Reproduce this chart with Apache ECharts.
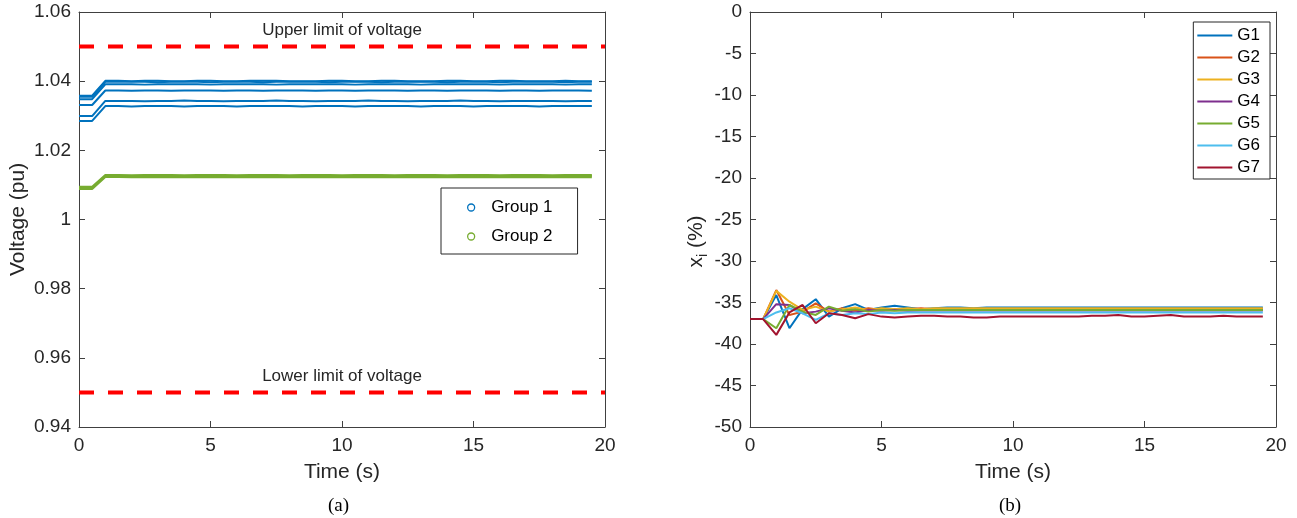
<!DOCTYPE html>
<html>
<head>
<meta charset="utf-8">
<script src="https://cdn.jsdelivr.net/npm/echarts@6/dist/echarts.min.js"></script>
<style>html,body{margin:0;padding:0;background:#fff}#c{width:1297px;height:518px}</style>
</head>
<body>
<div id="c"></div>
<script>
// ---------- data ----------
var time = [0,0.5,1,1.5,2,2.5,3,3.5,4,4.5,5,5.5,6,6.5,7,7.5,8,8.5,9,9.5,10,10.5,11,11.5,12,12.5,13,13.5,14,14.5,15,15.5,16,16.5,17,17.5,18,18.5,19,19.5];

// (a) voltages, group 1 (blue)
var g1a = [1.0358,1.0358,1.0401,1.0401,1.0400,1.0401,1.0401,1.0400,1.0400,1.0401,1.0401,1.0400,1.0400,1.0401,1.0401,1.0401,1.0400,1.0400,1.0400,1.0401,1.0401,1.0400,1.0400,1.0401,1.0401,1.0400,1.0400,1.0400,1.0401,1.0401,1.0400,1.0400,1.0401,1.0401,1.0400,1.0400,1.0400,1.0401,1.0400,1.0400];
var g1b = [1.0355,1.0355,1.0398,1.0398,1.0398,1.0398,1.0397,1.0398,1.0398,1.0398,1.0397,1.0398,1.0398,1.0398,1.0397,1.0398,1.0398,1.0398,1.0398,1.0397,1.0398,1.0398,1.0398,1.0397,1.0398,1.0398,1.0398,1.0398,1.0397,1.0398,1.0398,1.0398,1.0397,1.0398,1.0398,1.0398,1.0398,1.0397,1.0398,1.0398];
var g1c = [1.0348,1.0348,1.0391,1.0391,1.0391,1.0390,1.0391,1.0391,1.0391,1.0391,1.0390,1.0391,1.0391,1.0391,1.0391,1.0390,1.0391,1.0391,1.0391,1.0391,1.0391,1.0390,1.0391,1.0391,1.0391,1.0391,1.0390,1.0391,1.0391,1.0391,1.0391,1.0391,1.0390,1.0391,1.0391,1.0391,1.0391,1.0390,1.0391,1.0391];
var g1d = [1.0331,1.0331,1.0373,1.0373,1.0372,1.0373,1.0373,1.0372,1.0373,1.0373,1.0373,1.0372,1.0373,1.0373,1.0372,1.0373,1.0373,1.0373,1.0372,1.0373,1.0373,1.0372,1.0373,1.0373,1.0373,1.0372,1.0373,1.0373,1.0372,1.0373,1.0373,1.0373,1.0372,1.0373,1.0373,1.0372,1.0373,1.0373,1.0373,1.0372];
var g1e = [1.0299,1.0299,1.0343,1.0343,1.0343,1.0342,1.0343,1.0343,1.0344,1.0343,1.0343,1.0342,1.0343,1.0343,1.0343,1.0344,1.0343,1.0343,1.0342,1.0343,1.0343,1.0343,1.0344,1.0343,1.0343,1.0342,1.0343,1.0343,1.0343,1.0344,1.0343,1.0343,1.0342,1.0343,1.0343,1.0343,1.0343,1.0342,1.0343,1.0343];
var g1f = [1.0285,1.0285,1.0328,1.0328,1.0327,1.0328,1.0328,1.0328,1.0327,1.0328,1.0328,1.0328,1.0327,1.0328,1.0328,1.0328,1.0328,1.0327,1.0328,1.0328,1.0328,1.0327,1.0328,1.0328,1.0328,1.0328,1.0327,1.0328,1.0328,1.0328,1.0327,1.0328,1.0328,1.0328,1.0328,1.0327,1.0328,1.0328,1.0328,1.0328];
// (a) voltages, group 2 (green)
var g2a = [1.0095,1.0095,1.0129,1.0129,1.0128,1.0129,1.0129,1.0129,1.0128,1.0129,1.0129,1.0129,1.0128,1.0129,1.0129,1.0129,1.0128,1.0129,1.0129,1.0129,1.0128,1.0129,1.0129,1.0129,1.0128,1.0129,1.0129,1.0129,1.0128,1.0129,1.0129,1.0129,1.0128,1.0129,1.0129,1.0129,1.0128,1.0129,1.0129,1.0129];
var g2b = [1.0091,1.0091,1.0126,1.0126,1.0126,1.0125,1.0126,1.0126,1.0126,1.0126,1.0125,1.0126,1.0126,1.0126,1.0126,1.0125,1.0126,1.0126,1.0126,1.0126,1.0125,1.0126,1.0126,1.0126,1.0126,1.0125,1.0126,1.0126,1.0126,1.0126,1.0125,1.0126,1.0126,1.0126,1.0126,1.0125,1.0126,1.0126,1.0126,1.0126];
var g2c = [1.0088,1.0088,1.0123,1.0123,1.0122,1.0122,1.0122,1.0123,1.0122,1.0122,1.0122,1.0123,1.0122,1.0122,1.0122,1.0123,1.0122,1.0122,1.0122,1.0123,1.0122,1.0122,1.0122,1.0123,1.0122,1.0122,1.0122,1.0123,1.0122,1.0122,1.0122,1.0123,1.0122,1.0122,1.0122,1.0123,1.0122,1.0122,1.0122,1.0122];
var limitTimes = [0, 10, 20];
var upperLimit = 1.05;
var lowerLimit = 0.95;
var voltTicks = ['0.94','0.96','0.98','1','1.02','1.04','1.06'];

// (b) x_i (%)
var gNames = ['G1','G2','G3','G4','G5','G6','G7'];
var G1 = [-37,-37,-34.1,-38.1,-35.8,-34.6,-36.7,-35.7,-35.2,-35.9,-35.6,-35.4,-35.6,-35.8,-35.7,-35.6,-35.6,-35.7,-35.6,-35.6,-35.6,-35.6,-35.6,-35.6,-35.6,-35.6,-35.6,-35.6,-35.6,-35.6,-35.6,-35.6,-35.6,-35.6,-35.6,-35.6,-35.6,-35.6,-35.6,-35.6];
var G2 = [-37,-37,-33.5,-36.5,-36.1,-35.1,-36.1,-35.7,-36.0,-35.7,-35.9,-35.8,-35.8,-35.7,-35.8,-35.8,-35.8,-35.8,-35.8,-35.8,-35.8,-35.8,-35.8,-35.8,-35.8,-35.8,-35.8,-35.8,-35.8,-35.8,-35.8,-35.8,-35.8,-35.8,-35.8,-35.8,-35.8,-35.8,-35.8,-35.8];
var G3 = [-37,-37,-33.6,-34.9,-35.9,-35.5,-36.1,-35.8,-35.6,-35.9,-35.7,-35.8,-35.7,-35.8,-35.7,-35.7,-35.7,-35.7,-35.7,-35.7,-35.7,-35.7,-35.7,-35.7,-35.7,-35.7,-35.7,-35.7,-35.7,-35.7,-35.7,-35.7,-35.7,-35.7,-35.7,-35.7,-35.7,-35.7,-35.7,-35.7];
var G4 = [-37,-37,-35.2,-35.3,-36.3,-36.1,-35.7,-36.0,-36.2,-35.9,-36.0,-35.9,-36.0,-35.95,-35.95,-35.95,-35.95,-35.95,-35.95,-35.95,-35.95,-35.95,-35.95,-35.95,-35.95,-35.95,-35.95,-35.95,-35.95,-35.95,-35.95,-35.95,-35.95,-35.95,-35.95,-35.95,-35.95,-35.95,-35.95,-35.95];
var G5 = [-37,-37,-38.1,-35.3,-36.1,-36.5,-35.5,-36.0,-35.8,-36.1,-35.9,-36.0,-35.9,-35.9,-35.9,-35.9,-35.9,-35.9,-35.9,-35.9,-35.9,-35.9,-35.9,-35.9,-35.9,-35.9,-35.9,-35.9,-35.9,-35.9,-35.9,-35.9,-35.9,-35.9,-35.9,-35.9,-35.9,-35.9,-35.9,-35.9];
var G6 = [-37,-37,-36.2,-35.7,-36.3,-37.1,-36.3,-36.5,-36.3,-36.4,-36.2,-36.3,-36.2,-36.2,-36.2,-36.2,-36.2,-36.2,-36.2,-36.2,-36.2,-36.2,-36.2,-36.2,-36.2,-36.2,-36.2,-36.2,-36.2,-36.2,-36.2,-36.2,-36.2,-36.2,-36.2,-36.2,-36.2,-36.2,-36.2,-36.2];
var G7 = [-37,-37,-38.9,-36.2,-35.3,-37.5,-36.3,-36.5,-36.9,-36.4,-36.7,-36.8,-36.7,-36.6,-36.6,-36.7,-36.7,-36.8,-36.8,-36.7,-36.7,-36.7,-36.7,-36.7,-36.7,-36.7,-36.6,-36.6,-36.5,-36.7,-36.7,-36.6,-36.5,-36.7,-36.7,-36.7,-36.6,-36.7,-36.7,-36.7];
var gData = [G1,G2,G3,G4,G5,G6,G7];
var gColors = ['#0072BD','#D95319','#EDB120','#7E2F8E','#77AC30','#4DBEEE','#A2142F'];

// ---------- chart ----------
var TXT = '#262626', AX = '#404040';
var FONT = 'Liberation Sans, Arial, Helvetica, sans-serif';
function pairs(ys){ return time.map(function(t,i){ return [t, ys[i]]; }); }

var chart = echarts.init(document.getElementById('c'), null, {renderer:'canvas'});

function xAx(gi, pos){
  var main = pos === 'bottom';
  return {
    type:'value', gridIndex:gi, position:pos, min:0, max:20, interval:5,
    axisLine:{show:true, onZero:false, lineStyle:{color:AX, width:1}},
    axisTick:{show:true, inside:true, length:6, lineStyle:{color:AX}},
    axisLabel:{show:main, color:TXT, fontSize:19, fontFamily:FONT, margin:9},
    splitLine:{show:false},
    name: main ? 'Time (s)' : '', nameLocation:'middle', nameGap:35,
    nameTextStyle:{color:TXT, fontSize:21, fontFamily:FONT}
  };
}
function yAx(gi, pos, min, max, interval, name, fmt){
  var main = pos === 'left';
  var o = {
    type:'value', gridIndex:gi, position:pos, min:min, max:max, interval:interval,
    axisLine:{show:true, onZero:false, lineStyle:{color:AX, width:1}},
    axisTick:{show:true, inside:true, length:6, lineStyle:{color:AX}},
    axisLabel:{show:main, color:TXT, fontSize:19, fontFamily:FONT, margin:8, formatter:fmt},
    splitLine:{show:false}
  };
  if (main) {
    o.name = name; o.nameLocation = 'middle';
  }
  return o;
}

var yA = yAx(0,'left',0.94,1.06,0.02,'Voltage (pu)', function(v){ return voltTicks[Math.round((v-0.94)/0.02)]; });
yA.nameGap = 50;
yA.nameTextStyle = {color:TXT, fontSize:21, fontFamily:FONT};
var yB = yAx(1,'left',-50,0,5,'{x|x}{i|i}{x| (%)}', null);
yB.nameGap = 42;
yB.nameTextStyle = {color:TXT, fontSize:21, fontFamily:FONT, padding:[0,44,0,0],
  rich:{ x:{fontSize:21, fontFamily:FONT, color:TXT, lineHeight:22, verticalAlign:'top'},
         i:{fontSize:14, fontFamily:FONT, color:TXT, lineHeight:14, padding:[12,0,0,0]} } };

var series = [];
function volt(name, data, color){
  series.push({type:'line', name:name, xAxisIndex:0, yAxisIndex:0, data:pairs(data),
    symbol:'none', lineStyle:{color:color, width:2}, itemStyle:{color:color}, silent:true, z:3});
}
[g1a,g1b,g1c,g1d,g1e,g1f].forEach(function(d){ volt('Group 1', d, '#0072BD'); });
[g2a,g2b,g2c].forEach(function(d){ volt('Group 2', d, '#77AC30'); });

function limit(val, text){
  series.push({type:'line', name:'lim'+val, xAxisIndex:0, yAxisIndex:0,
    data: limitTimes.map(function(t,i){
      return {value:[t,val], label:{show:i===1, formatter:text, position:'top', distance:8,
        color:TXT, fontSize:17, fontFamily:FONT}};
    }),
    symbol:'circle', symbolSize:0.01, showSymbol:true,
    lineStyle:{color:'#FF0000', width:4, type:[15,14]}, itemStyle:{color:'#FF0000'}, silent:true, z:2});
}
limit(upperLimit, 'Upper limit of voltage');
limit(lowerLimit, 'Lower limit of voltage');

gNames.forEach(function(n,k){
  series.push({type:'line', name:n, xAxisIndex:2, yAxisIndex:2, data:pairs(gData[k]),
    symbol:'none', lineStyle:{color:gColors[k], width:2}, itemStyle:{color:gColors[k]}, silent:true, z:3+k});
});

chart.setOption({
  animation:false,
  backgroundColor:'#fff',
  textStyle:{fontFamily:FONT},
  grid:[
    {left:79, top:12, width:526, height:415, show:false},
    {left:750, top:12, width:526, height:415, show:false}
  ],
  xAxis:[ xAx(0,'bottom'), xAx(0,'top'), xAx(1,'bottom'), xAx(1,'top') ],
  yAxis:[ yA, yAx(0,'right',0.94,1.06,0.02), yB, yAx(1,'right',-50,0,5) ],
  legend:[
    {orient:'vertical', left:441, top:188, padding:[11,25,9,26], itemGap:12,
     itemWidth:30, itemHeight:7, borderColor:'#262626', borderWidth:1, backgroundColor:'#fff',
     selectedMode:false,
     textStyle:{color:'#000', fontSize:17, fontFamily:FONT, lineHeight:17},
     data:[
      {name:'Group 1', icon:'circle', itemStyle:{color:'#fff', borderColor:'#0072BD', borderWidth:1.3}},
      {name:'Group 2', icon:'circle', itemStyle:{color:'#fff', borderColor:'#77AC30', borderWidth:1.3}}
     ]},
    {orient:'vertical', right:27, top:22, padding:[5,10,3,4], itemGap:5,
     itemWidth:35, itemHeight:2, icon:'rect', borderColor:'#262626', borderWidth:1, backgroundColor:'#fff',
     selectedMode:false,
     textStyle:{color:'#000', fontSize:17, fontFamily:FONT, lineHeight:17},
     data:gNames}
  ],
  graphic:[
    {type:'text', left:328, top:497, style:{text:'(a)', fill:'#000', font:'19px "Liberation Serif", "Times New Roman", serif', textAlign:'center'}},
    {type:'text', left:999, top:497, style:{text:'(b)', fill:'#000', font:'19px "Liberation Serif", "Times New Roman", serif', textAlign:'center'}}
  ],
  series:series
});
</script>
</body>
</html>
